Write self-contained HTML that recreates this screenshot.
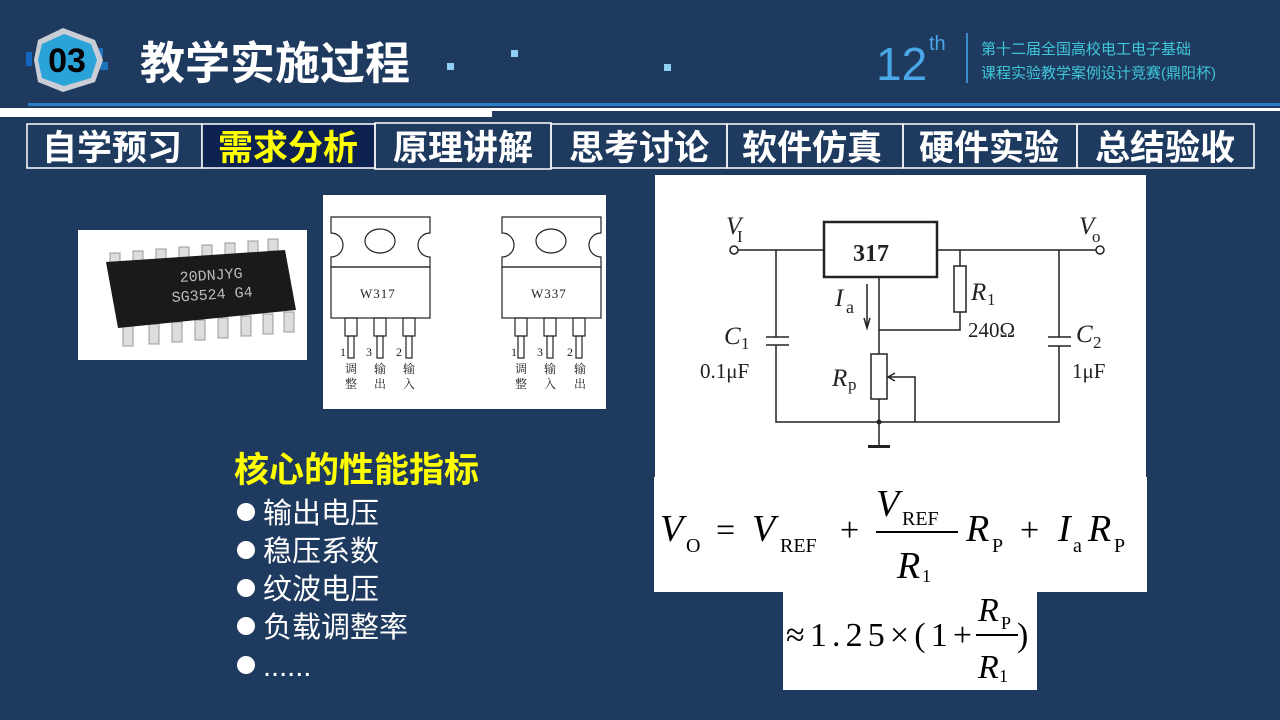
<!DOCTYPE html>
<html><head><meta charset="utf-8"><style>
body{margin:0;background:#1f3a5f;width:1280px;height:720px;overflow:hidden;font-family:"Liberation Sans","Noto Sans CJK SC",sans-serif}
svg{position:absolute;left:0;top:0}
.cj{font-family:"Liberation Sans","Noto Sans CJK SC",sans-serif}
.sr{font-family:"Liberation Serif","Noto Serif CJK SC",serif}
</style></head><body>
<svg width="1280" height="720" viewBox="0 0 1280 720">
<rect width="1280" height="720" fill="#1f3a5f"/>
<!-- header -->
<rect x="26" y="52" width="6" height="14" fill="#1565c0"/>
<rect x="95" y="48" width="8" height="9" fill="#1e73be"/>
<rect x="100" y="62" width="8" height="8" fill="#1e73be"/>
<polygon points="63,28 95,40 103,60 95,82 63,92 38,82 34,60 38,40" fill="#c9ced6"/>
<polygon points="64,34 91,44 97,60 91,78 64,86 42,78 38,60 42,44" fill="#2aa3d8"/>
<text x="67" y="72" text-anchor="middle" font-size="34" font-weight="bold" fill="#000" class="cj">03</text>
<text x="140" y="79" font-size="45" font-weight="bold" fill="#fff" class="cj">教学实施过程</text>
<rect x="447" y="63" width="7" height="7" fill="#8fd0f5"/>
<rect x="511" y="50" width="7" height="7" fill="#8fd0f5"/>
<rect x="664" y="64" width="7" height="7" fill="#8fd0f5"/>
<text x="876" y="80" font-size="46" fill="#4aa8e8" font-family="Liberation Sans,sans-serif">12</text>
<text x="929" y="50" font-size="20" fill="#4aa8e8" font-family="Liberation Sans,sans-serif">th</text>
<rect x="966" y="33" width="2" height="50" fill="#3a8ccc"/>
<text x="981" y="54" font-size="15" fill="#3fc6d8" class="cj">第十二届全国高校电工电子基础</text>
<text x="981" y="78" font-size="15" fill="#3fc6d8" class="cj">课程实验教学案例设计竞赛(鼎阳杯)</text>
<rect x="28" y="103" width="1252" height="3" fill="#2a7fc8"/>
<rect x="0" y="108" width="492" height="9" fill="#fff"/>
<rect x="492" y="108" width="788" height="3" fill="#fff"/>
<!-- tabs -->
<g fill="none" stroke="#fff" stroke-width="1.5">
<rect x="27" y="124" width="175" height="44"/>
<rect x="202" y="124" width="173" height="44" fill="#0d2250"/>
<rect x="375" y="123" width="176" height="46"/>
<rect x="551" y="124" width="176" height="44"/>
<rect x="727" y="124" width="176" height="44"/>
<rect x="903" y="124" width="174" height="44"/>
<rect x="1077" y="124" width="177" height="44"/>
</g>
<g font-size="35" font-weight="bold" fill="#fff" class="cj" text-anchor="middle">
<text x="112" y="160">自学预习</text>
<text x="288" y="160" fill="#ffff00">需求分析</text>
<text x="463" y="160">原理讲解</text>
<text x="639" y="160">思考讨论</text>
<text x="812" y="160">软件仿真</text>
<text x="989" y="160">硬件实验</text>
<text x="1165" y="160">总结验收</text>
</g>
<!-- chip photo -->
<rect x="78" y="230" width="229" height="130" fill="#fff"/>
<g fill="#ddd" stroke="#999" stroke-width="1">
<rect x="110" y="253" width="10" height="12"/><rect x="133" y="251" width="10" height="12"/><rect x="156" y="249" width="10" height="12"/><rect x="179" y="247" width="10" height="12"/><rect x="202" y="245" width="10" height="12"/><rect x="225" y="243" width="10" height="12"/><rect x="248" y="241" width="10" height="12"/><rect x="268" y="239" width="10" height="12"/>
<rect x="123" y="326" width="10" height="20"/><rect x="149" y="324" width="10" height="20"/><rect x="172" y="322" width="10" height="20"/><rect x="195" y="320" width="10" height="20"/><rect x="218" y="318" width="10" height="20"/><rect x="241" y="316" width="10" height="20"/><rect x="263" y="314" width="10" height="20"/><rect x="284" y="312" width="10" height="20"/>
</g>
<polygon points="106,262 285,250 296,310 118,328" fill="#1a1a1a"/>
<text x="180" y="282" font-size="15" fill="#bbb" font-family="Liberation Mono,monospace" transform="rotate(-4 180 282)">20DNJYG</text>
<text x="172" y="302" font-size="15" fill="#bbb" font-family="Liberation Mono,monospace" transform="rotate(-4 172 302)">SG3524 G4</text>
<!-- W317 pic -->
<rect x="323" y="195" width="283" height="214" fill="#fff"/>
<g fill="none" stroke="#222" stroke-width="1.2">
<path d="M331,217 H430 V233 A12,12 0 0 0 430,257 V267 H331 V257 A12,12 0 0 0 331,233 Z"/>
<ellipse cx="380" cy="241" rx="15" ry="12"/>
<rect x="331" y="267" width="99" height="51"/>
<rect x="345" y="318" width="12" height="18"/><rect x="348" y="336" width="6" height="22"/>
<rect x="374" y="318" width="12" height="18"/><rect x="377" y="336" width="6" height="22"/>
<rect x="403" y="318" width="12" height="18"/><rect x="406" y="336" width="6" height="22"/>
<path d="M502,217 H601 V233 A12,12 0 0 0 601,257 V267 H502 V257 A12,12 0 0 0 502,233 Z"/>
<ellipse cx="551" cy="241" rx="15" ry="12"/>
<rect x="502" y="267" width="99" height="51"/>
<rect x="515" y="318" width="12" height="18"/><rect x="518" y="336" width="6" height="22"/>
<rect x="544" y="318" width="12" height="18"/><rect x="547" y="336" width="6" height="22"/>
<rect x="573" y="318" width="12" height="18"/><rect x="576" y="336" width="6" height="22"/>
</g>
<g class="sr" font-size="12" fill="#222">
<text x="360" y="298" font-size="13" letter-spacing="1">W317</text><text x="531" y="298" font-size="13" letter-spacing="1">W337</text>
<text x="340" y="356">1</text><text x="366" y="356">3</text><text x="396" y="356">2</text>
<text x="511" y="356">1</text><text x="537" y="356">3</text><text x="567" y="356">2</text>
<text x="345" y="373">调</text><text x="345" y="388">整</text><text x="374" y="373">输</text><text x="374" y="388">出</text><text x="403" y="373">输</text><text x="403" y="388">入</text>
<text x="515" y="373">调</text><text x="515" y="388">整</text><text x="544" y="373">输</text><text x="544" y="388">入</text><text x="574" y="373">输</text><text x="574" y="388">出</text>
</g>
<!-- list -->
<text x="234" y="482" font-size="35" font-weight="bold" fill="#ffff00" class="cj">核心的性能指标</text>
<g fill="#fff">
<circle cx="246" cy="512" r="9"/><circle cx="246" cy="550" r="9"/><circle cx="246" cy="588" r="9"/><circle cx="246" cy="626" r="9"/><circle cx="246" cy="665" r="9"/>
</g>
<g font-size="29" fill="#fff" class="cj">
<text x="263" y="523">输出电压</text>
<text x="263" y="561">稳压系数</text>
<text x="263" y="599">纹波电压</text>
<text x="263" y="637">负载调整率</text>
<text x="263" y="676">......</text>
</g>
<!-- circuit -->
<rect x="655" y="175" width="491" height="302" fill="#fff"/>
<g fill="none" stroke="#222" stroke-width="1.5">
<circle cx="734" cy="250" r="4"/><circle cx="1100" cy="250" r="4"/>
<path d="M738,250 H824 M937,250 H1096"/>
<rect x="824" y="222" width="113" height="55" stroke-width="2.5"/>
<path d="M776,250 V337 M766,337 H789 M766,345 H789 M776,345 V422 H1059 V346 M1048,346 H1071 M1048,337 H1071 M1059,337 V250"/>
<path d="M960,250 V266 M960,312 V330 H879 M879,277 V354 M879,399 V422 M879,422 V446"/>
<rect x="954" y="266" width="12" height="46"/>
<rect x="871" y="354" width="16" height="45"/>
<path d="M888,377 H915 V422 M867,284 V326"/>
<path d="M864,318 L867,328 L870,318" stroke-width="1.5"/>
<path d="M895,373 L888,377 L895,381"/>
</g>
<circle cx="879" cy="422" r="2.5" fill="#222"/>
<rect x="868" y="445" width="22" height="3" fill="#222"/>
<g class="sr" fill="#222" font-size="25">
<text x="726" y="234" font-style="italic">V</text><text x="737" y="242" font-size="17">I</text>
<text x="1079" y="234" font-style="italic">V</text><text x="1092" y="242" font-size="17">o</text>
<text x="853" y="261" font-weight="bold" font-size="24">317</text>
<text x="835" y="306" font-style="italic">I</text><text x="846" y="313" font-size="18">a</text>
<text x="971" y="300" font-style="italic">R</text><text x="987" y="305" font-size="17">1</text>
<text x="968" y="337" font-size="21">240Ω</text>
<text x="724" y="344" font-style="italic">C</text><text x="741" y="349" font-size="17">1</text>
<text x="700" y="378" font-size="21">0.1μF</text>
<text x="1076" y="342" font-style="italic">C</text><text x="1093" y="348" font-size="17">2</text>
<text x="1072" y="378" font-size="21">1μF</text>
<text x="832" y="386" font-style="italic">R</text><text x="848" y="390" font-size="17">p</text>
</g>
<!-- formulas -->
<rect x="654" y="477" width="493" height="115" fill="#fff"/>
<rect x="783" y="590" width="254" height="100" fill="#fff"/>
<g class="sr" fill="#000">
<text x="660" y="541" font-size="38" font-style="italic">V</text><text x="686" y="552" font-size="20">O</text>
<text x="716" y="541" font-size="34">=</text>
<text x="752" y="541" font-size="38" font-style="italic">V</text><text x="780" y="552" font-size="20">REF</text>
<text x="840" y="541" font-size="34">+</text>
<text x="876" y="516" font-size="38" font-style="italic">V</text><text x="902" y="525" font-size="20">REF</text>
<rect x="876" y="531" width="82" height="2"/>
<text x="897" y="578" font-size="38" font-style="italic">R</text><text x="922" y="582" font-size="18">1</text>
<text x="966" y="541" font-size="38" font-style="italic">R</text><text x="992" y="552" font-size="20">P</text>
<text x="1020" y="541" font-size="34">+</text>
<text x="1058" y="541" font-size="38" font-style="italic">I</text><text x="1073" y="552" font-size="20">a</text>
<text x="1088" y="541" font-size="38" font-style="italic">R</text><text x="1114" y="552" font-size="20">P</text>
<text x="786" y="646" font-size="34" textLength="186" lengthAdjust="spacing">≈1.25×(1+</text>
<text x="978" y="621" font-size="34" font-style="italic">R</text><text x="1001" y="629" font-size="18">P</text>
<rect x="976" y="634" width="42" height="2"/>
<text x="978" y="678" font-size="34" font-style="italic">R</text><text x="999" y="682" font-size="18">1</text>
<text x="1017" y="646" font-size="34">)</text>
</g>
</svg>
</body></html>
